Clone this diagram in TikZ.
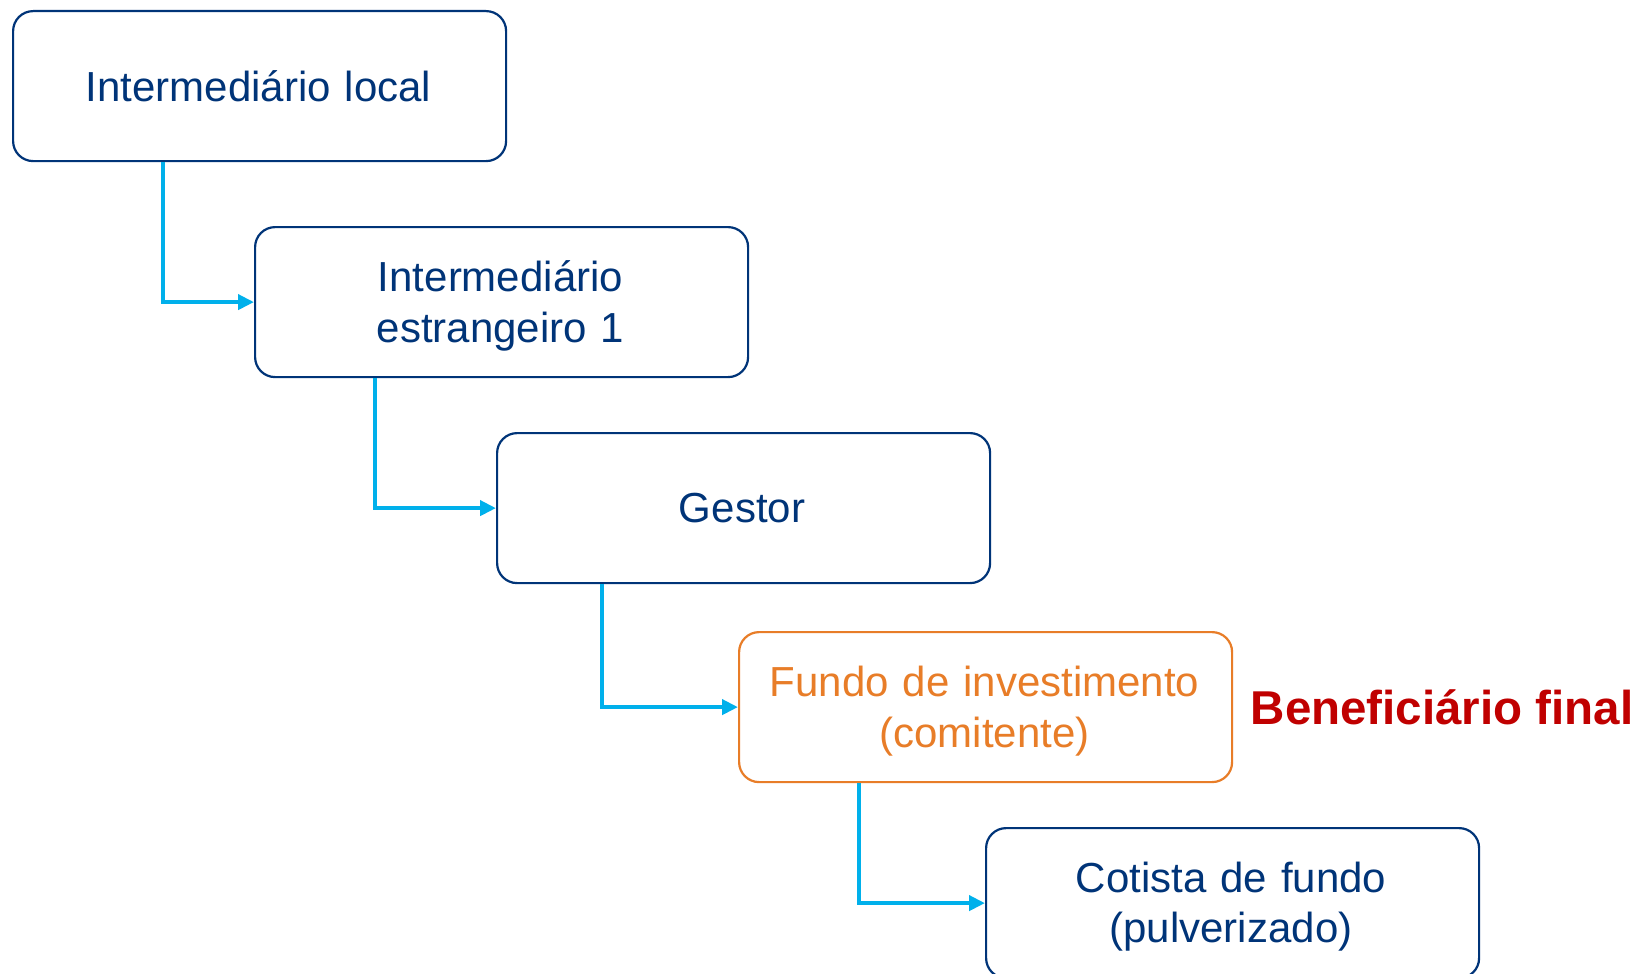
\documentclass[tikz,border=0pt]{standalone}
\usepackage{fontspec}
\setmainfont{Liberation Sans}
\usetikzlibrary{arrows.meta}
\definecolor{navy}{RGB}{0,52,120}
\definecolor{cyanl}{RGB}{0,176,235}
\definecolor{orng}{RGB}{232,125,40}
\definecolor{redd}{RGB}{192,0,0}
\begin{document}
\begin{tikzpicture}[x=1pt,y=-1pt,
  box/.style={draw=navy, line width=2.2pt, rounded corners=20pt, minimum width=493pt, minimum height=150pt, inner sep=0pt, anchor=north west},
  obox/.style={box, draw=orng},
  lbl/.style={text=navy, font=\fontsize{42}{50.5}\selectfont, align=center, text width=494pt, inner sep=0pt, anchor=base},
  conn/.style={draw=cyanl, line width=4pt, -{Triangle[length=16pt,width=15pt]}, line join=miter}
]
\fill[white] (0,0) rectangle (1641,974);
\useasboundingbox (0,0) rectangle (1641,974);

\node[box] (b1) at (12,10) {};
\node[box] (b2) at (254,226) {};
\node[box] (b3) at (496,432) {};
\node[obox] (b4) at (738,631) {};
\node[box] (b5) at (985,827) {};

\node[lbl] (t1) at (258.5,101) {Intermediário local};
\node[lbl] (t2) at (500.5,291.7) {Intermediário\\estrangeiro 1};
\node[lbl] (t3) at (742,522.3) {Gestor};
\node[lbl, text=orng] (t4) at (984.5,696.7) {Fundo de investimento\\(comitente)};
\node[lbl] (t5) at (1231,892.3) {Cotista de fundo\\(pulverizado)};
\node[text=redd, font=\fontsize{47.5}{57}\selectfont\bfseries, anchor=base west, inner sep=0pt] (bf) at (1250.5,724) {Beneficiário final};

\draw[conn] (b1.south west) ++(151,0) |- (b2.west);
\draw[conn] (b2.south west) ++(121,0) |- (b3.west);
\draw[conn] (b3.south west) ++(105.7,0) |- (b4.west);
\draw[conn] (b4.south west) ++(121.3,0) |- (b5.west);
\end{tikzpicture}
\end{document}
